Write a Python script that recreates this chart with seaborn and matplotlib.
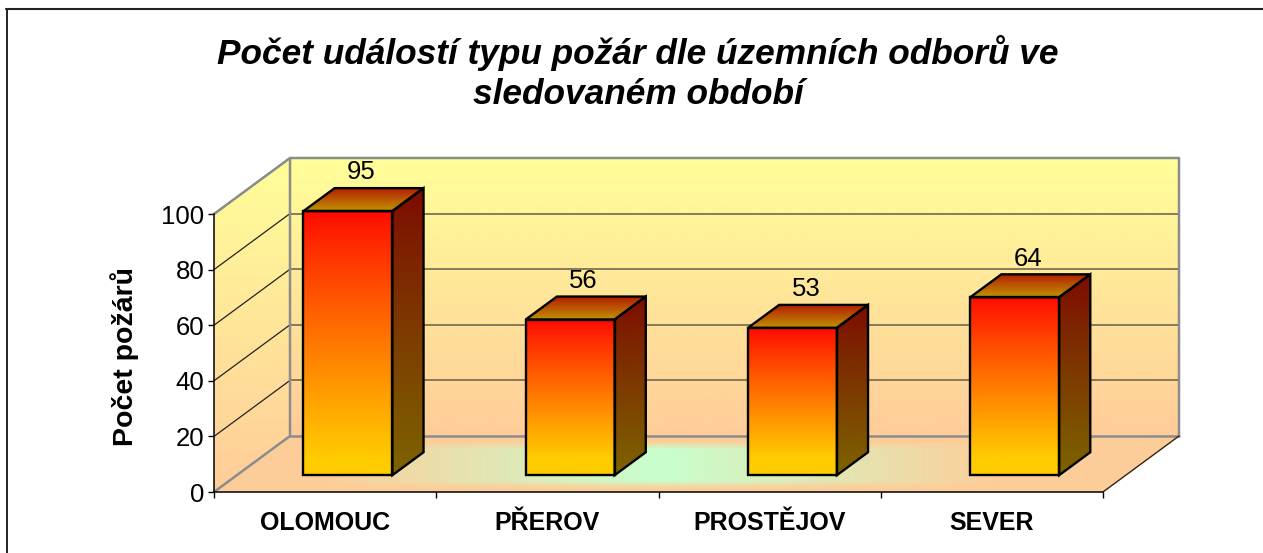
import numpy as np
import pandas as pd
import matplotlib
matplotlib.use("Agg")
import matplotlib.pyplot as plt
from matplotlib.lines import Line2D
from matplotlib.patches import Polygon
from matplotlib.transforms import Affine2D
import seaborn as sns

regions = ["OLOMOUC", "PŘEROV", "PROSTĚJOV", "SEVER"]
fires = [95, 56, 53, 64]
y_ticks = [0, 20, 40, 60, 80, 100]
title = "Počet událostí typu požár dle územních odborů ve\nsledovaném období"
y_label = "Počet požárů"

W, H = 1263, 553
# front plane of the fake 3d box, in pixels
LEFT, RIGHT, BOTTOM, TOP = 214, 1103, 492, 214
# full depth of the box in data units
DX = 76 / 222.25
DY = 56 / 2.78
# bars stand between these depth fractions
D0, D1 = 0.30, 0.71

sns.set_theme(style="white")
plt.rcParams["font.family"] = ["Liberation Sans", "DejaVu Sans"]
plt.rcParams["text.color"] = "black"
plt.rcParams["xtick.labelcolor"] = "black"
plt.rcParams["ytick.labelcolor"] = "black"

fig = plt.figure(figsize=(W / 100, H / 100), dpi=100)
ax = fig.add_axes([LEFT / W, 1 - BOTTOM / H, (RIGHT - LEFT) / W, (BOTTOM - TOP) / H])

df = pd.DataFrame({"region": regions, "fires": fires})
sns.barplot(data=df, x="region", y="fires", width=0.4, ax=ax, zorder=10)
bars = list(ax.patches)

ax.set_xlim(-0.5, len(regions) - 0.5)
ax.set_ylim(0, 100)
ax.patch.set_visible(False)


def p(x, y, d=0.0):
    return (x + d * DX, y + d * DY)


def gradient(extent, top, bottom, clip, zorder, power=1.0):
    # vertical two colour gradient clipped to a polygon
    t = np.linspace(0, 1, 256)[:, None, None] ** power
    img = (np.array(top) * (1 - t) + np.array(bottom) * t) / 255
    im = ax.imshow(img, extent=extent, aspect="auto", origin="upper",
                   interpolation="bilinear", zorder=zorder)
    poly = Polygon(clip, closed=True, transform=ax.transData)
    im.set_clip_path(poly)
    im.set_clip_box(fig.bbox)
    return im


x0, x1 = ax.get_xlim()

# walls
back = [p(x0, 0, 1), p(x1, 0, 1), p(x1, 100, 1), p(x0, 100, 1)]
side = [p(x0, 0), p(x0, 0, 1), p(x0, 100, 1), p(x0, 100)]
wall_top = (255, 255, 153)
wall_bot = (255, 204, 153)
gradient((x0, x1 + DX, DY, 100 + DY), wall_top, wall_bot, back, 1)
gradient((x0, x1, 0, 100 + DY), wall_top, wall_bot, side, 1)

# floor, peach with a green glow in the middle (px 300..1030 wide, 443..487 high)
px, py = np.meshgrid(np.linspace(214, 1179, 500), np.linspace(436, 492, 60))
glow_x = np.clip(1 - np.abs(px - 660) / 345, 0, 1)
glow_y = np.clip((1 - np.abs(py - 465) / 24) * 3, 0, 1)
glow = (glow_x * glow_y)[:, :, None]
floor_img = (np.array((253, 205, 153)) * (1 - glow) + np.array((200, 255, 205)) * glow) / 255
floor = [p(x0, 0), p(x1, 0), p(x1, 0, 1), p(x0, 0, 1)]
im = ax.imshow(floor_img, extent=(x0, x1 + DX, 0, DY), aspect="auto",
               interpolation="bilinear", zorder=1.5)
im.set_clip_path(Polygon(floor, closed=True, transform=ax.transData))
im.set_clip_box(fig.bbox)
ax.set_xlim(x0, x1)
ax.set_ylim(0, 100)

# grid on both walls
for t in y_ticks[1:-1] + [100]:
    ax.plot(*zip(p(x0, t), p(x0, t, 1)), color="#222222", lw=0.9, clip_on=False, zorder=3)
    ax.plot(*zip(p(x0, t, 1), p(x1, t, 1)), color="#6e6a50", lw=1.2, clip_on=False, zorder=3)

# box edges
edge = "#8c8c8c"
ax.plot(*zip(p(x0, 100), p(x0, 100, 1), p(x1, 100, 1), p(x1, 0, 1)),
        color=edge, lw=1.8, clip_on=False, zorder=4)
ax.plot(*zip(p(x0, 0), p(x0, 0, 1), p(x0, 100, 1)), color=edge, lw=1.8, clip_on=False, zorder=4)
ax.plot(*zip(p(x0, 0, 1), p(x1, 0, 1)), color=edge, lw=1.8, clip_on=False, zorder=4)
ax.plot(*zip(p(x1, 0), p(x1, 0, 1)), color="#332211", lw=1.0, clip_on=False, zorder=4)

# bars
for bar in bars:
    bx, bw, bh = bar.get_x(), bar.get_width(), bar.get_height()
    bar.set_transform(Affine2D().translate(D0 * DX, D0 * DY) + ax.transData)
    bar.set_facecolor("none")
    bar.set_edgecolor("black")
    bar.set_linewidth(1.7)
    bar.set_clip_on(False)
    a = p(bx, 0, D0)
    b = p(bx + bw, 0, D0)
    c = p(bx + bw, bh, D0)
    d = p(bx, bh, D0)
    b2 = p(bx + bw, 0, D1)
    c2 = p(bx + bw, bh, D1)
    d2 = p(bx, bh, D1)
    # front face
    gradient((a[0], b[0], a[1] + 6, d[1]), (255, 10, 0), (255, 204, 0), [a, b, c, d], 6, 0.9)
    gradient((a[0], b[0], a[1], a[1] + 6), (255, 204, 0), (255, 204, 0), [a, b, c, d], 6)
    # right side
    gradient((b[0], b2[0], b[1], c2[1]), (125, 10, 0), (125, 100, 0), [b, b2, c2, c], 6, 0.9)
    # top, darker red at the back
    gradient((d[0], c2[0], d[1], d2[1]), (180, 30, 0), (192, 148, 0), [d, c, c2, d2], 6)
    for poly in ([b, b2, c2, c], [d, c, c2, d2]):
        ax.add_patch(Polygon(poly, closed=True, fill=False, edgecolor="black",
                             lw=1.7, clip_on=False, zorder=8, joinstyle="miter"))
    # value label
    mx, my = p(bx + bw / 2, bh, (D0 + D1) / 2)
    ax.annotate(f"{bh:.0f}", (mx, my), xytext=(-1.5, 11), textcoords="offset points",
                ha="center", va="bottom", fontsize=18.5, color="black",
                annotation_clip=False, zorder=12)

ax.set_xlim(x0, x1)
ax.set_ylim(0, 100)

# axes
for s in ("top", "right"):
    ax.spines[s].set_visible(False)
for s in ("left", "bottom"):
    ax.spines[s].set_color("black")
    ax.spines[s].set_linewidth(1.1)
    ax.spines[s].set_zorder(5)
ax.set_yticks(y_ticks)
ax.tick_params(axis="y", length=4, width=1.0, color="black", labelsize=18.5, pad=3, left=True)
ax.set_xticks(np.arange(len(regions) + 1) - 0.5)
ax.set_xticklabels([])
ax.tick_params(axis="x", length=4, width=1.0, color="black", bottom=True)
for i, name in enumerate(regions):
    ax.annotate(name, (i, 0), xytext=(0, -14), textcoords="offset points", ha="center",
                va="top", fontsize=18, fontweight="bold", annotation_clip=False)
ax.set_xlabel("")
ax.set_ylabel("")

fig.text(125 / W, 1 - 356 / H, y_label, rotation=90, ha="center", va="center",
         fontsize=20.5, fontweight="bold")
fig.text(638 / W, 1 - 73 / H, title, ha="center", va="center", fontsize=25.4,
         fontweight="bold", fontstyle="italic", linespacing=1.27)

# chart frame, only the top and left edges are inside the picture
fig.add_artist(Line2D([6.5 / W, 6.5 / W], [0, 1 - 9 / H], color="black", lw=1.2))
fig.add_artist(Line2D([6 / W, 1], [1 - 9 / H, 1 - 9 / H], color="#222222", lw=1.5))

fig.savefig("out.png", dpi=100)
